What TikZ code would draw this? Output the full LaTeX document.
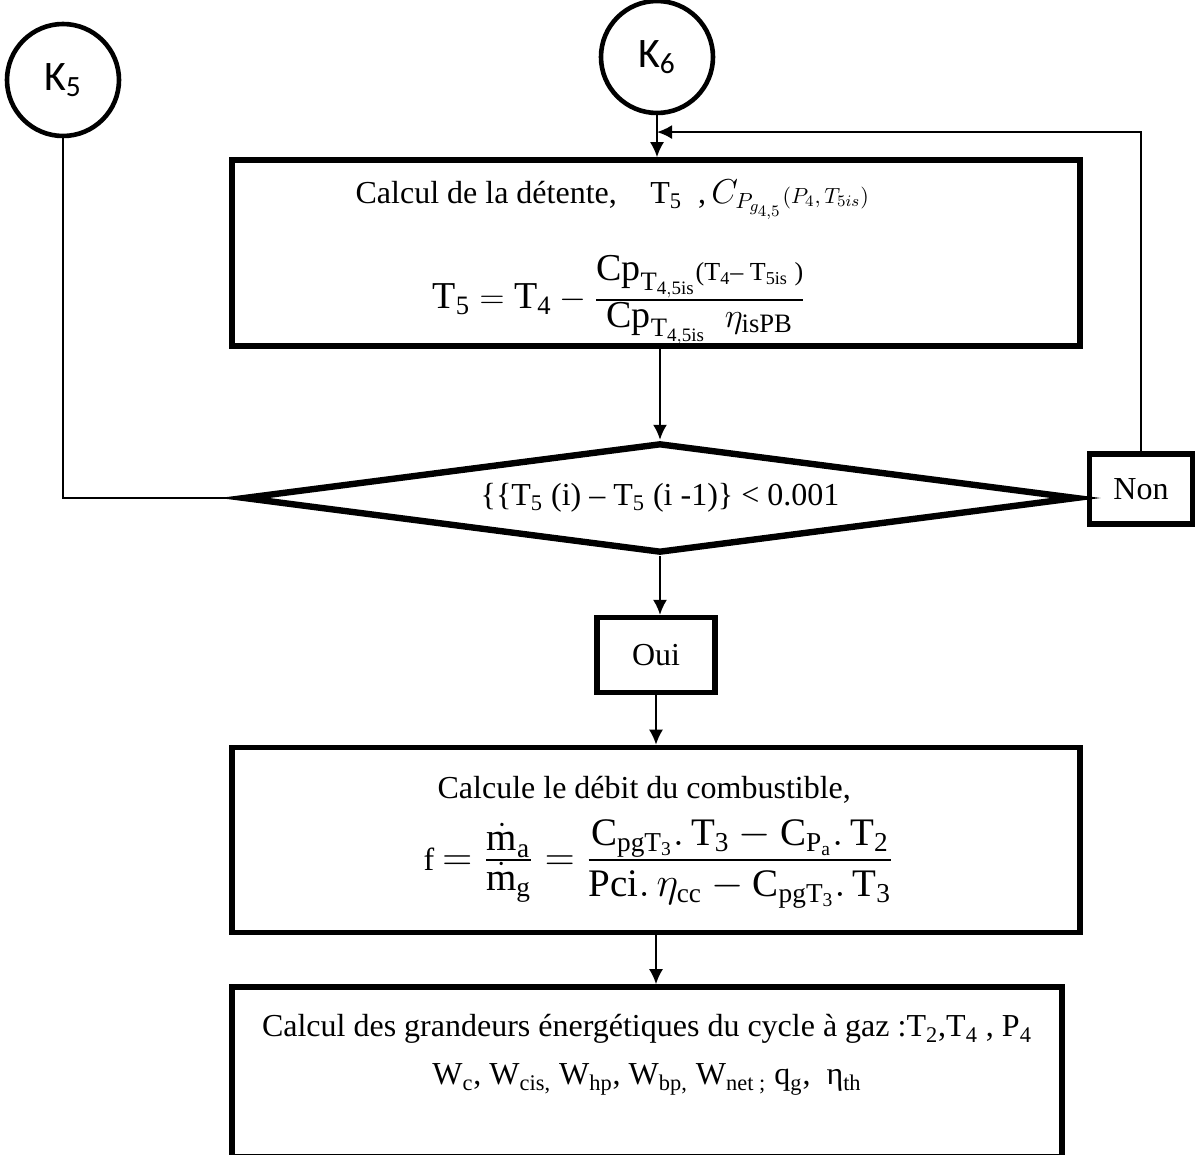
\documentclass[tikz,border=0pt]{standalone}
\usepackage{amsmath}
\usepackage{fontspec}
\setmainfont{Liberation Serif}
\newfontfamily\carlito{Carlito}
\usetikzlibrary{arrows.meta,calc,positioning,shapes.geometric}

\tikzset{
    conn/.style={circle, draw, line width=2.3pt, minimum size=56pt, inner sep=0pt,
        font=\carlito\fontsize{21}{24}\selectfont},
    calcbox/.style={draw, line width=2.8pt, inner sep=0pt, minimum width=424pt},
    txt/.style={inner sep=0pt, font=\fontsize{16}{19}\selectfont},
    testbox/.style={diamond, draw, line width=3.2pt, inner sep=0pt, shape aspect=7.6,
        minimum width=417pt, minimum height=55pt, font=\fontsize{16}{19}\selectfont},
    answer/.style={draw, line width=2.6pt, inner sep=0pt, font=\fontsize{16}{19}\selectfont},
    flow/.style={->, line width=1pt},
    link/.style={line width=1pt},
}
% fraction serree, numerateur et denominateur en taille texte
\newcommand{\tightfrac}[2]{\frac{\textstyle #1}{\textstyle #2}}

\begin{document}
\begin{tikzpicture}[x=0.5pt, y=-0.5pt, >={Latex[length=7.5pt,width=7pt]}]
    \useasboundingbox (0,0) rectangle (1196,1155);

    % connecteurs
    \node[conn] (K5) at (63,80) {K\textsubscript{5}};
    \node[conn] (K6) at (657,57) {K\textsubscript{6}};

    % detente
    \node[calcbox, minimum height=93pt] (detente) at (656,253) {};
    \node[txt, anchor=base west] (dtxt1) at ($(detente.north west) + (126,46)$)
        {Calcul de la détente,\hspace{1.05em}$\mathrm{T_5}$\ \ ,\,$C_{P_{g_{4,5}}}{\scriptstyle(P_4,\,T_{5is})}$};
    \node[txt, anchor=west, font=\fontsize{19}{23}\selectfont] (dtxt2) at ($(detente.west) + (203,47)$)
        {$\textstyle \mathrm{T_5}=\mathrm{T_4}-\tightfrac{\mathrm{Cp}_{\mathrm{T_{4,5is}}}\text{\fontsize{13}{15}\selectfont(T\textsubscript{4}– T\textsubscript{5is} )}}{\mathrm{Cp}_{\mathrm{T_{4,5is}}}\ \ \eta_{\mathrm{isPB}}}$};

    % test de convergence
    \node[testbox] (test) at ($(detente) + (4,245)$)
        {\{\{T\textsubscript{5} (i) – T\textsubscript{5} (i -1)\} < 0.001};
    \node[answer, minimum width=51.5pt, minimum height=35pt] (non) at ($(test) + (481,-9)$) {Non};
    \node[answer, minimum width=59pt, minimum height=37.5pt] (oui) at ($(test) + (-4,157)$) {Oui};

    % debit du combustible
    \node[calcbox, minimum height=92.5pt] (debit) at ($(oui) + (0,185)$) {};
    \node[txt, anchor=base west] (ctxt1) at ($(debit.north west) + (208,54)$)
        {Calcule le débit du combustible,};
    \node[txt, anchor=west] (ctxt2) at ($(debit.west) + (194,24)$)
        {f\ {\fontsize{19.5}{23}\selectfont$\textstyle = \tightfrac{\dot{\mathrm m}_{\mathrm a}}{\dot{\mathrm m}_{\mathrm g}} = \tightfrac{\mathrm{C_{pgT_3}.\,T_3}-\mathrm{C_{P_a}.\,T_2}}{\rule{0pt}{1.9ex}\mathrm{Pci.\,}\eta_{\mathrm{cc}}-\mathrm{C_{pgT_3}.\,T_3}}$}};

    % grandeurs du cycle
    \node[calcbox, minimum width=415pt, minimum height=85pt] (bilan) at ($(debit) + (-9,232)$) {};
    \node[txt, below=15pt of bilan.north, align=center] (btxt)
        {Calcul des grandeurs énergétiques du cycle à gaz :T\textsubscript{2},T\textsubscript{4} , P\textsubscript{4}\\[5pt]
        W\textsubscript{c}, W\textsubscript{cis,} W\textsubscript{hp}, W\textsubscript{bp,} W\textsubscript{net ;} q\textsubscript{g},\ \ η\textsubscript{th}};

    % liaisons
    \draw[flow] (K6) -- (K6 |- detente.north);
    \draw[flow] (non.north) |- ($(K6.south)!0.4!(K6 |- detente.north)$);
    \draw[flow] (detente.south -| test.north) -- (test.north);
    \draw[link] (K5.south) |- (test.west);
    \draw[link] (test.east) -- (test.east -| non.west);
    \draw[flow] (test.south) -- (test.south |- oui.north);
    \draw[flow] (oui) -- (debit);
    \draw[flow] (debit.south) -- (debit.south |- bilan.north);
\end{tikzpicture}
\end{document}
